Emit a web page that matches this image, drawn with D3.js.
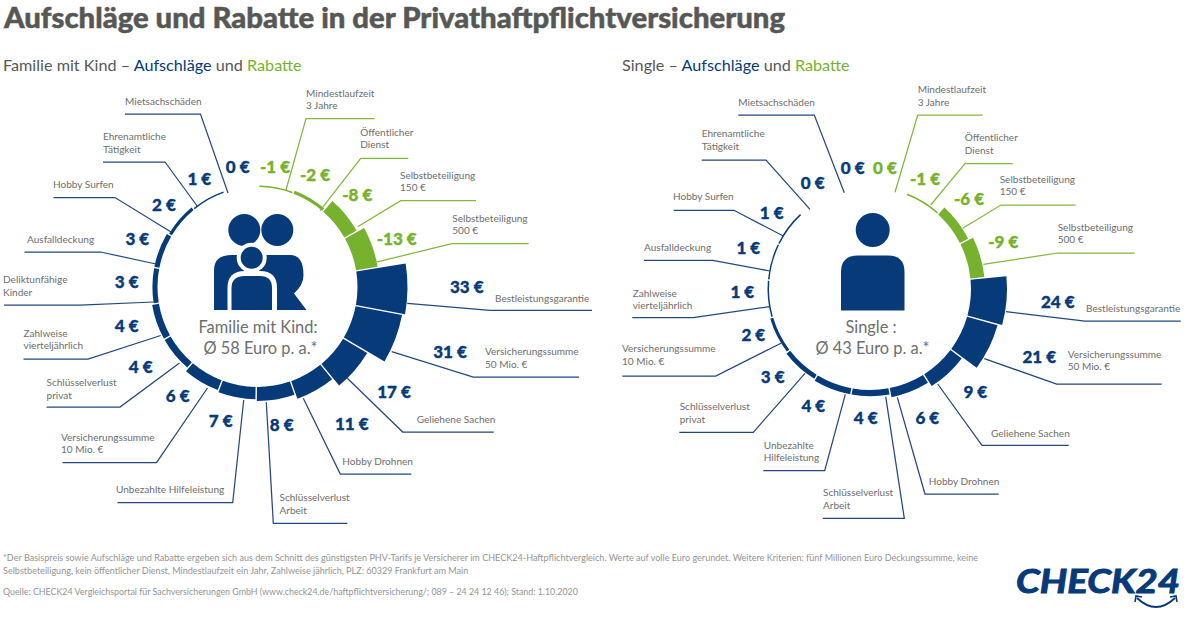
<!DOCTYPE html>
<html lang="de">
<head>
<meta charset="utf-8">
<script src="https://cdnjs.cloudflare.com/ajax/libs/d3/7.9.0/d3.min.js"></script>
<style>
html,body{margin:0;padding:0;background:#fff;overflow:hidden}
svg{display:block}
text{font-family:Lato,"Open Sans",sans-serif}
</style>
</head>
<body>
<svg id="c" width="1200" height="617"></svg>
<script>
// ---- Data -----------------------------------------------------------------
const famCategories = ["Mindestlaufzeit|3 Jahre","Öffentlicher|Dienst","Selbstbeteiligung|150 €","Selbstbeteiligung|500 €","Bestleistungsgarantie","Versicherungssumme|50 Mio. €","Geliehene Sachen","Hobby Drohnen","Schlüsselverlust|Arbeit","Unbezahlte Hilfeleistung","Versicherungssumme|10 Mio. €","Schlüsselverlust|privat","Zahlweise|vierteljährlich","Deliktunfähige|Kinder","Ausfalldeckung","Hobby Surfen","Ehrenamtliche|Tätigkeit","Mietsachschäden"];
const famValues = [-1,-2,-8,-13,33,31,17,11,8,7,6,4,4,3,3,2,1,0];

const sglCategories = ["Mindestlaufzeit|3 Jahre","Öffentlicher|Dienst","Selbstbeteiligung|150 €","Selbstbeteiligung|500 €","Bestleistungsgarantie","Versicherungssumme|50 Mio. €","Geliehene Sachen","Hobby Drohnen","Schlüsselverlust|Arbeit","Unbezahlte|Hilfeleistung","Schlüsselverlust|privat","Versicherungssumme|10 Mio. €","Zahlweise|vierteljährlich","Ausfalldeckung","Hobby Surfen","Ehrenamtliche|Tätigkeit","Mietsachschäden"];
const sglValues = [0,-1,-6,-9,24,21,9,6,4,4,3,2,1,1,1,0,0];

const titleText = "Aufschläge und Rabatte in der Privathaftpflichtversicherung";
const footLines = [
 "*Der Basispreis sowie Aufschläge und Rabatte ergeben sich aus dem Schnitt des günstigsten PHV-Tarifs je Versicherer im CHECK24-Haftpflichtvergleich. Werte auf volle Euro gerundet. Weitere Kriterien: fünf Millionen Euro Deckungssumme, keine",
 "Selbstbeteiligung, kein öffentlicher Dienst, Mindestlaufzeit ein Jahr, Zahlweise jährlich, PLZ: 60329 Frankfurt am Main"
];
const sourceText = "Quelle: CHECK24 Vergleichsportal für Sachversicherungen GmbH (www.check24.de/haftpflichtversicherung/; 089 – 24 24 12 46); Stand: 1.10.2020";

// ---- Layout (annotation placement, same order as the categories) ------------
// leader: ring x, ring y, elbow x, elbow y, end x
const famLeaders = [[286,190,306,118.7,374.7],[320,210.7,360.7,158.3,408.3],[357.7,226.7,400.7,200.7,476],[375.3,262.3,452,243.7,528.7],[407.3,303.3,490,310.3,592],[391.7,351.7,473.3,377,579],[347.3,378.3,402.7,432,493.7],[303.3,398.3,340.3,474,411.3],[266.3,402.3,273.3,523.3,347.3],[243.7,400,232.7,502.7,117.5],[207.5,388,156.5,462.5,62.5],[179.5,363,120,407,46.5],[160.7,335.5,88,359,23.5],[153.5,302,80,305,4],[156,264,100.5,252,24.5],[171,232,115,197.5,53.5],[197.5,206.5,165,162,103],[228,193,200.5,114,125]];
// label: x, first baseline
const famLabelPos = [[306,96.7],[360.3,135.7],[400,178.7],[452.3,221.7],[495,301.7],[485,355],[416.7,422.7],[342.3,464.7],[279.5,501],[116,493.3],[61,440.7],[46.5,386],[23.5,336.7],[3,283.3],[27,242.7],[53,188.3],[103,140],[125,105]];
// value: centre x, centre y
const famValuePos = [[275,167.3],[315,175],[357.3,195],[396.7,239],[466.7,287.3],[450,352],[394,392.3],[351.7,424.3],[281.7,425],[220.7,420.7],[177.7,395.7],[140.7,367.3],[126.7,326],[126.7,281.7],[137.3,239],[164,205],[199.3,179],[237.7,167.3]];

const sglLeaders = [[895,192.3,917.7,115,982.7],[930.7,205,965,163.7,1012.7],[962.7,228.3,1001,205,1075.7],[983.3,264.3,1057.7,253,1134.7],[1006,311.7,1085,321,1180.7],[984.3,358.7,1056.7,384,1161.7],[937.7,384,982,445.3,1068.7],[897.3,397.3,925,494,998.7],[885.7,396.7,904.3,518.3,822.7],[845.3,394.3,824.7,470.7,763.3],[805,373.3,753.3,432.3,679.3],[781,343.3,715.7,376,622.3],[769.3,306.7,693.3,317.7,632.3],[770,271,712.7,260.3,644],[783.3,236,734,210.3,673.7],[810,209.3,766,160,701.7],[844.3,192.7,814.3,115,738.3]];
const sglLabelPos = [[917.7,93.3],[964.7,141.3],[999.7,182.7],[1057.7,230.7],[1086,311.7],[1067.7,357.7],[991,436.7],[928.7,484.7],[823,496],[763.7,448.7],[679.7,410],[622,352],[632.7,296.7],[644,250.7],[673,200],[701.7,137.3],[738.3,106]];
const sglValuePos = [[885,168.3],[925,179],[969,199.3],[1003.3,242.3],[1057.7,302.3],[1039.3,356.7],[975.3,392.3],[927.3,418],[865.7,417.7],[813.3,405.7],[772.7,376.7],[753.3,335],[742.3,292.3],[748.3,247.7],[771.7,213.3],[812.7,182.7],[852.7,168.3]];

const NAVY="#063a78", GREEN="#77b22e", TXT="#6e6e6d", DARK="#575756";
const svg=d3.select("#c");
const rad=d=>d*Math.PI/180;

function text(g,x,y,str,o={}){
  return g.append("text").attr("x",x).attr("y",y).text(str)
    .attr("font-size",o.size||10.05).attr("fill",o.fill||TXT)
    .attr("font-weight",o.weight||400).attr("text-anchor",o.anchor||"start");
}

function donut(cfg){
  const g=svg.append("g");
  const depth=d3.scaleLinear().domain(cfg.depthDomain).range(cfg.depthRange);
  const color=(v,i)=>i<cfg.greenCount?GREEN:NAVY;
  const pie=d3.pie().value(()=>1).sort(null).startAngle(rad(cfg.start)).endAngle(rad(cfg.start+360));
  const arcs=pie(cfg.values);
  const arc=d3.arc().padRadius(cfg.r).padAngle(0.014);
  g.append("g").attr("transform",`translate(${cfg.cx},${cfg.cy})`)
    .selectAll("path").data(arcs).join("path")
    .attr("fill",(d,i)=>color(d.data,i))
    .attr("d",d=>{
      const t=depth(Math.abs(d.data));
      return t===0?null:arc({innerRadius:cfg.r,outerRadius:cfg.r+t,startAngle:d.startAngle,endAngle:d.endAngle});
    });
  const line=d3.line();
  g.append("g").selectAll("path").data(cfg.leaders).join("path")
    .attr("fill","none").attr("stroke-width",1.25)
    .attr("stroke",(d,i)=>i<cfg.greenCount?"#82b83c":"#23487f")
    .attr("d",d=>line([[d[0],d[1]],[d[2],d[3]],[d[4],d[3]]]));
  cfg.categories.forEach((c,i)=>{
    c.split("|").forEach((ln,j)=>text(g,cfg.labelPos[i][0],cfg.labelPos[i][1]+j*12.6,ln));
  });
  cfg.values.forEach((v,i)=>{
    text(g,cfg.valuePos[i][0],cfg.valuePos[i][1]+6,`${v} €`,{size:17,weight:900,anchor:"middle",fill:color(v,i)})
      .attr("stroke",color(v,i)).attr("stroke-width",.35);
  });
  return g;
}

// title
text(svg,4,27.5,titleText,{size:29.3,weight:900,fill:DARK}).attr("stroke",DARK).attr("stroke-width",.5);

// panel headings
function heading(x,lead){
  const t=text(svg,x,71,"",{size:16.2,fill:DARK});
  t.append("tspan").text(lead);
  t.append("tspan").text("Aufschläge").attr("fill",NAVY);
  t.append("tspan").text(" und ");
  t.append("tspan").text("Rabatte").attr("fill",GREEN);
}
heading(3,"Familie mit Kind – ");
heading(622,"Single – ");

donut({cx:257.5,cy:287,r:100,start:0.7,values:famValues,categories:famCategories,greenCount:4,
  depthDomain:[0,1,8,17,33],depthRange:[0,1.5,14,28,50],
  leaders:famLeaders,labelPos:famLabelPos,valuePos:famValuePos});
donut({cx:870,cy:289,r:101,start:-0.3,values:sglValues,categories:sglCategories,greenCount:4,
  depthDomain:[0,1,9,24],depthRange:[0,1.5,14,36],
  leaders:sglLeaders,labelPos:sglLabelPos,valuePos:sglValuePos});

// centre captions
text(svg,258,333,"Familie mit Kind:",{size:16.4,anchor:"middle"});
text(svg,260.5,354,"Ø 58 Euro p. a.*",{size:16.4,anchor:"middle"});
text(svg,871,333,"Single :",{size:16.4,anchor:"middle"});
text(svg,872.5,354,"Ø 43 Euro p. a.*",{size:16.4,anchor:"middle"});

// family pictogram
const fam=svg.append("g").attr("fill",NAVY);
fam.append("circle").attr("cx",244.3).attr("cy",230).attr("r",16);
fam.append("circle").attr("cx",277.3).attr("cy",230).attr("r",16);
fam.append("path").attr("d","M214,310 L214,270 Q214,255 232,255 L290,255 Q303.5,255 303.5,275 Q303.5,285 294,293.5 L306.5,310 Z");
fam.append("circle").attr("cx",251.7).attr("cy",257.7).attr("r",15).attr("fill","#fff");
fam.append("circle").attr("cx",251.7).attr("cy",257.7).attr("r",11);
fam.append("path").attr("d","M227.5,310 L227.5,288 Q227.5,271 245,271 L260,271 Q277,271 277,288 L277,310 Z").attr("fill","#fff");
fam.append("path").attr("d","M231.5,310 L231.5,288 Q231.5,276 245,276 L260,276 Q272,276 272,288 L272,310 Z");

// single pictogram
const sgl=svg.append("g").attr("fill",NAVY);
sgl.append("circle").attr("cx",872.7).attr("cy",230).attr("r",17);
sgl.append("path").attr("d","M841,310.5 L841,272 Q841,255.5 858,255.5 L888,255.5 Q904.5,255.5 904.5,272 L904.5,310.5 Z");

// footnotes
footLines.forEach((l,i)=>text(svg,3,560.5+i*13,l,{size:9.07,fill:"#949494"}));
text(svg,3,594.5,sourceText,{size:8.85,fill:"#949494"});

// logo
const logo=svg.append("g");
logo.append("text").attr("x",1016).attr("y",593).text("CHECK24")
  .attr("textLength",164).attr("lengthAdjust","spacingAndGlyphs")
  .attr("font-family","'Liberation Sans',sans-serif").attr("font-size",32).attr("font-weight",700).attr("font-style","italic")
  .attr("fill",NAVY).attr("stroke",NAVY).attr("stroke-width",1);
logo.append("path").attr("d","M1137,598 Q1156,616 1175,598").attr("fill","none").attr("stroke",NAVY).attr("stroke-width",1.8);
logo.append("path").attr("d","M1135,602 L1136,596 L1142,597 M1177,602 L1176,596 L1170,597").attr("fill","none").attr("stroke",NAVY).attr("stroke-width",1.6);
</script>
</body>
</html>
